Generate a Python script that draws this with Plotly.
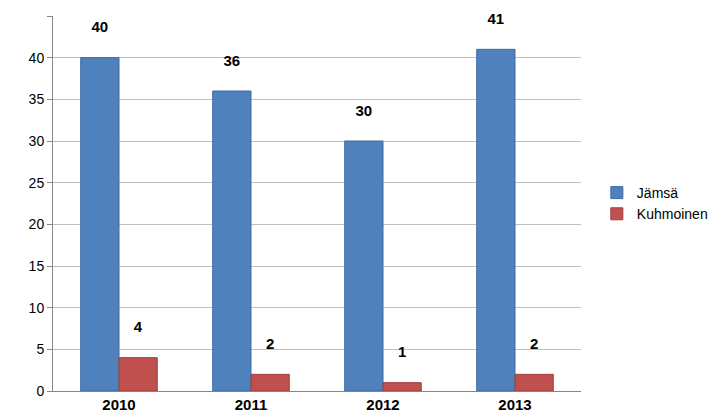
import plotly.graph_objects as go

years = ["2010", "2011", "2012", "2013"]
jamsa = [40, 36, 30, 41]
kuhmoinen = [4, 2, 1, 2]

fig = go.Figure()
for name, vals, col, lc in [("Jämsä", jamsa, "#4F81BD", "#3C6AA0"), ("Kuhmoinen", kuhmoinen, "#C0504D", "#A03E3B")]:
    fig.add_bar(name=name, x=years, y=vals, marker=dict(color=col, line=dict(color=lc, width=1)),
                text=[f"{v}<br> " for v in vals], textposition="outside",
                textfont=dict(size=15, color="black", family="Liberation Sans", weight="bold"), cliponaxis=False)

fig.update_layout(
    width=719, height=416, barmode="group", bargap=0.42, bargroupgap=0,
    margin=dict(l=45, r=146, t=8, b=33, autoexpand=False),
    plot_bgcolor="white", paper_bgcolor="white",
    font=dict(family="Liberation Sans", size=13, color="black"),
    legend=dict(x=1.03, y=0.5, yanchor="middle", font=dict(size=14), tracegroupgap=14),
)
fig.update_yaxes(range=[0, 45], tickvals=list(range(0, 50, 5)), showgrid=True, gridcolor="#BFBFBF", gridwidth=1,
                 showline=True, linecolor="#868686", ticks="outside", tickcolor="#868686", ticklen=5,
                 tickfont=dict(size=14), zeroline=False)
fig.update_xaxes(showline=True, linecolor="#868686", ticks="", tickfont=dict(size=15, family="Liberation Sans", weight="bold"))
fig.write_html("out.html")
